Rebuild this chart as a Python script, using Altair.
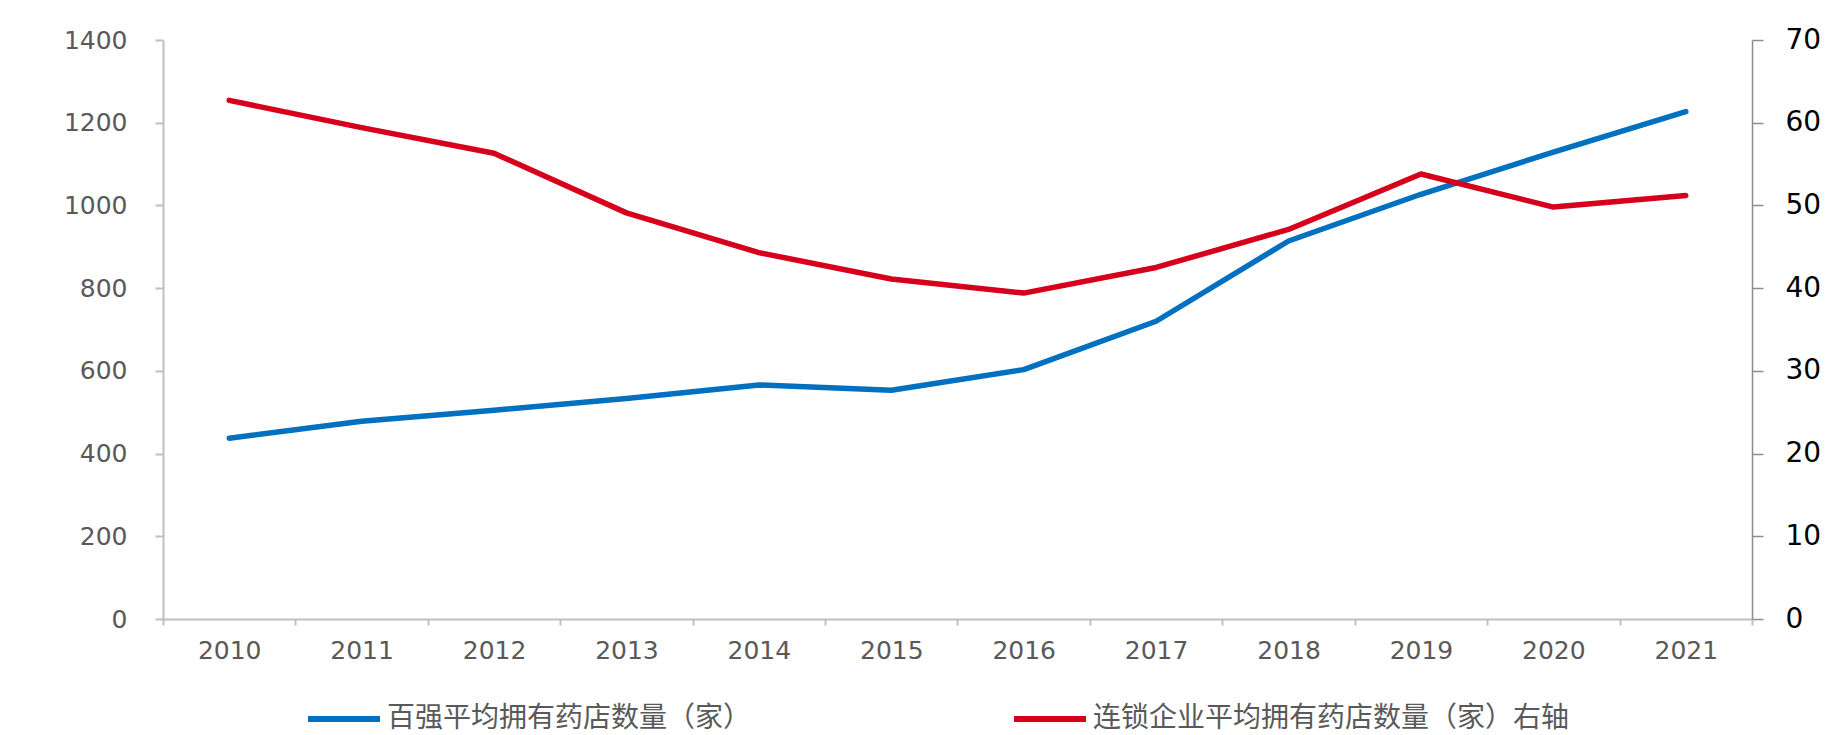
import altair as alt
import pandas as pd

years = [str(y) for y in range(2010, 2022)]
top100_avg = [437, 478, 505, 533, 566, 553, 603, 720, 914, 1027, 1129, 1227]
chain_avg = [62.7, 59.4, 56.3, 49.1, 44.3, 41.1, 39.4, 42.5, 47.1, 53.8, 49.8, 51.2]
series_names = ["百强平均拥有药店数量（家）", "连锁企业平均拥有药店数量（家）右轴"]
series_colors = ["#0070C0", "#D6001C"]
left_ticks = [0, 200, 400, 600, 800, 1000, 1200, 1400]
right_ticks = [0, 10, 20, 30, 40, 50, 60, 70]

df1 = pd.DataFrame({"year": years, "v1": top100_avg, "series": series_names[0]})
df2 = pd.DataFrame({"year": years, "v2": chain_avg, "series": series_names[1]})

x_enc = alt.X(
    "year:N", title=None, sort=years,
    scale=alt.Scale(type="band", paddingInner=0, paddingOuter=0),
    bandPosition=0.5,
    axis=alt.Axis(
        tickBand="extent", labelAngle=0, labelFont="DejaVu Sans", labelFontSize=25,
        labelColor="#595959", domainColor="#bfbfbf", domainWidth=2, tickColor="#bfbfbf",
        tickWidth=2, tickSize=6, labelPadding=13, grid=False,
    ),
)

color_enc = alt.Color(
    "series:N",
    scale=alt.Scale(domain=series_names, range=series_colors),
    legend=alt.Legend(
        title=None, orient="none", legendX=142, legendY=640, direction="horizontal",
        symbolType="stroke", symbolSize=5184, symbolStrokeWidth=6,
        labelFontSize=28, labelFont="Noto Sans CJK SC", labelColor="#595959",
        labelBaseline="middle", columnPadding=250, labelOffset=4, padding=0, labelLimit=1000,
    ),
)

left = alt.Chart(df1).mark_line(strokeWidth=5.5, strokeCap="round", strokeJoin="round").encode(
    x=x_enc,
    y=alt.Y(
        "v1:Q", title=None, scale=alt.Scale(domain=[0, 1400], nice=False),
        axis=alt.Axis(
            values=left_ticks, format="d", orient="left", labelFont="DejaVu Sans", labelFontSize=25,
            labelColor="#595959", domainColor="#bfbfbf", domainWidth=2, tickColor="#bfbfbf",
            tickWidth=2, tickSize=8, labelPadding=28, grid=False,
        ),
    ),
    color=color_enc,
)

right = alt.Chart(df2).mark_line(strokeWidth=5.5, strokeCap="round", strokeJoin="round").encode(
    x=x_enc,
    y=alt.Y(
        "v2:Q", title=None, scale=alt.Scale(domain=[0, 70], nice=False),
        axis=alt.Axis(
            values=right_ticks, format="d", orient="right", labelFont="DejaVu Sans", labelFontSize=28,
            labelColor="#000000", domainColor="#8c8c8c", domainWidth=1.5, tickColor="#8c8c8c",
            tickWidth=1.5, tickSize=11, labelPadding=22, grid=False,
        ),
    ),
    color=color_enc,
)

chart = (
    alt.layer(left, right)
    .resolve_scale(y="independent")
    .properties(
        width=1589, height=579,
        padding={"left": 155, "top": 32, "right": 71, "bottom": 116},
        autosize=alt.AutoSizeParams(type="none"),
        background="#ffffff",
    )
    .configure_view(stroke=None)
)

chart.save("out.html", embed_options={"renderer": "svg", "actions": False})
